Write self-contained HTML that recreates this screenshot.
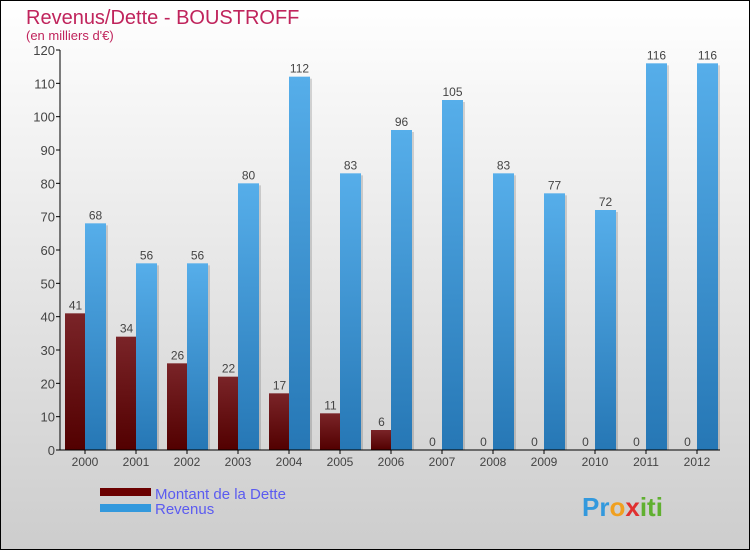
<!DOCTYPE html>
<html><head><meta charset="utf-8"><style>
html,body{margin:0;padding:0}
body{width:750px;height:550px;overflow:hidden;font-family:"Liberation Sans",sans-serif}
</style></head><body>
<svg id="chart" width="750" height="550" xmlns="http://www.w3.org/2000/svg">
<defs>
<linearGradient id="bg" x1="0" y1="0" x2="0" y2="1"><stop offset="0" stop-color="#ffffff"/><stop offset="1" stop-color="#cdcdcd"/></linearGradient>
<linearGradient id="gd" x1="0" y1="0" x2="0" y2="1"><stop offset="0" stop-color="#7a2428"/><stop offset="1" stop-color="#520000"/></linearGradient>
<linearGradient id="gr" x1="0" y1="0" x2="0" y2="1"><stop offset="0" stop-color="#56aeea"/><stop offset="1" stop-color="#2677b5"/></linearGradient>
</defs>
<rect x="0.5" y="0.5" width="749" height="549" fill="url(#bg)" stroke="#000"/>
<text x="26" y="24" font-size="20" fill="#c0245c">Revenus/Dette - BOUSTROFF</text>
<text x="26" y="40" font-size="13" fill="#c0245c">(en milliers d'€)</text>
<g id="plot"></g>
<g>
<rect x="100" y="488" width="51" height="8" fill="#6b0000"/>
<text x="155" y="499" font-size="15" fill="#5b5bf0">Montant de la Dette</text>
<rect x="100" y="504" width="51" height="8" fill="#3399dd"/>
<text x="155" y="514" font-size="15" fill="#5b5bf0">Revenus</text>
</g>
<text x="582" y="516" font-size="26" font-weight="bold"><tspan fill="#3399dd">Pr</tspan><tspan fill="#f0a020">o</tspan><tspan fill="#e03030">x</tspan><tspan fill="#60b030">iti</tspan></text>
</svg>
<script>
const years=["2000","2001","2002","2003","2004","2005","2006","2007","2008","2009","2010","2011","2012"];
const debt=[41,34,26,22,17,11,6,0,0,0,0,0,0];
const revenue=[68,56,56,80,112,83,96,105,83,77,72,116,116];
const yTicks=[0,10,20,30,40,50,60,70,80,90,100,110,120];
const NS="http://www.w3.org/2000/svg";
const g=document.getElementById('plot');
const y=v=>450-v*400/120;
const xc=i=>85+i*51;
function el(t,a){const e=document.createElementNS(NS,t);for(const k in a)e.setAttribute(k,a[k]);g.appendChild(e);return e;}
yTicks.forEach(v=>{
 const l=el('line',{x1:56,x2:60,y1:y(v),y2:y(v),stroke:'#000'});
 
 
 const t=el('text',{x:55,y:y(v)+5,'font-size':13,'text-anchor':'end',fill:'#444'});
 t.textContent=v;
 
 
});
years.forEach((yr,i)=>{
 const c=xc(i);
 const bars=[[debt[i],c-20,'url(#gd)','bar-debt-'+yr],[revenue[i],c,'url(#gr)','bar-revenue-'+yr]];
 bars.forEach(([v,x0,f,n])=>{
  if(v>0){
   const s=el('rect',{x:x0+2,y:y(v)+2,width:21,height:450-y(v)-2,fill:'rgba(0,0,0,0.15)'});
   
   
   const r=el('rect',{x:x0,y:y(v),width:21,height:450-y(v),fill:f});
   
   
  }
  const t=el('text',{x:x0+10.5,y:y(v)-4,'font-size':12,'text-anchor':'middle',fill:'#444'});
  t.textContent=v;
  
  
 });
 const tk=el('line',{x1:c,x2:c,y1:450,y2:454,stroke:'#000'});
 
 
 const t=el('text',{x:c,y:466,'font-size':12,'text-anchor':'middle',fill:'#444'});
 t.textContent=yr;
 
 
});
const ya=el('line',{x1:60,x2:60,y1:50,y2:450,stroke:'#000'});


const xa=el('line',{x1:60,x2:720,y1:450,y2:450,stroke:'#000'});


</script>
</body></html>
